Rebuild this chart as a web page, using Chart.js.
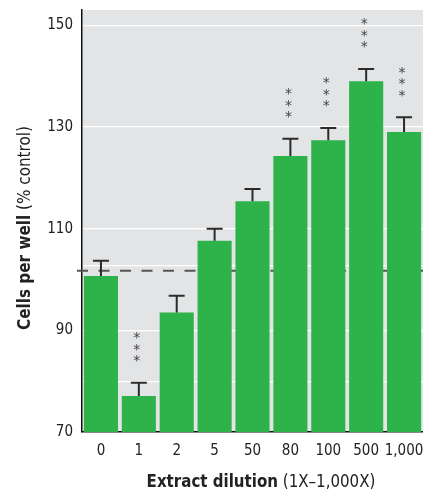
<!DOCTYPE html>
<html>
<head>
<meta charset="utf-8">
<script src="https://cdn.jsdelivr.net/npm/chart.js@4"></script>
<style>
  body { margin: 0; background: #fff; }
  #wrap { width: 423px; height: 489px; }
</style>
</head>
<body>
<div id="wrap"><canvas id="myChart"></canvas></div>
<script>
// values
const dilutions = ['0', '1', '2', '5', '50', '80', '100', '500', '1,000'];
const cellsPerWell = [100.7, 77.1, 93.5, 107.6, 115.4, 124.3, 127.4, 139.0, 129.0];
const errorUp = [3.0, 2.6, 3.3, 2.4, 2.4, 3.4, 2.4, 2.4, 2.9];
const significant = [false, true, false, false, false, true, true, true, true];
const controlLevel = 101.7;
const yGridValues = [70, 80, 90, 102.8, 110, 130, 150];
const yLabelValues = [70, 90, 110, 130, 150];

const fontFamily = "'DejaVu Sans Condensed', 'Liberation Sans Narrow', sans-serif";

const backgroundPlugin = {
    id: 'plotBg',
    beforeDraw(chart) {
        const {ctx, chartArea} = chart;
        ctx.save();
        ctx.fillStyle = '#e3e4e6';
        ctx.fillRect(chartArea.left, chartArea.top, chartArea.right - chartArea.left, chartArea.bottom - chartArea.top);
        ctx.restore();
    }
};

// dashed control line, sits behind the bars
const controlLinePlugin = {
    id: 'controlLine',
    beforeDatasetsDraw(chart) {
        const {ctx, chartArea} = chart;
        const y = chart.scales.y.getPixelForValue(controlLevel);
        ctx.save();
        ctx.strokeStyle = '#555';
        ctx.lineWidth = 2;
        ctx.setLineDash([11, 10.5]);
        ctx.beginPath();
        ctx.moveTo(chartArea.left - 5, y);
        ctx.lineTo(chartArea.right, y);
        ctx.stroke();
        ctx.restore();
    }
};

const errorBarPlugin = {
    id: 'errorBars',
    afterDatasetsDraw(chart) {
        const {ctx} = chart;
        const yScale = chart.scales.y;
        const meta = chart.getDatasetMeta(0);
        ctx.save();
        ctx.strokeStyle = '#2b2b2b';
        ctx.lineWidth = 2;
        meta.data.forEach((bar, i) => {
            const top = yScale.getPixelForValue(cellsPerWell[i] + errorUp[i]);
            const x = bar.x;
            ctx.beginPath();
            ctx.moveTo(x, bar.y);
            ctx.lineTo(x, top);
            ctx.moveTo(x - 8, top);
            ctx.lineTo(x + 8, top);
            ctx.stroke();
            if (significant[i]) {
                ctx.fillStyle = '#444';
                ctx.font = "14px 'DejaVu Sans'";
                ctx.textAlign = 'center';
                ctx.textBaseline = 'alphabetic';
                [23.5, 35, 46.5].forEach(off => {
                    ctx.fillText('*', x - 2, top - off + 6);
                });
            }
        });
        ctx.restore();
    }
};

// axis titles with a bold part and a normal part
function drawTitle(ctx, bold, normal, cx, sx) {
    const boldFont = "bold 18px " + fontFamily;
    const normFont = "18px " + fontFamily;
    ctx.font = boldFont;
    const wb = ctx.measureText(bold).width;
    ctx.font = normFont;
    const wn = ctx.measureText(normal).width;
    ctx.scale(sx, 1);
    const x0 = cx / sx - (wb + wn) / 2;
    ctx.font = boldFont;
    ctx.fillText(bold, x0, 0);
    ctx.font = normFont;
    ctx.fillText(normal, x0 + wb, 0);
}

const axisTitlePlugin = {
    id: 'axisTitles',
    afterDraw(chart) {
        const {ctx} = chart;
        ctx.fillStyle = '#222';
        ctx.textBaseline = 'alphabetic';
        ctx.textAlign = 'left';

        ctx.save();
        ctx.translate(0, 486.5);
        drawTitle(ctx, 'Extract dilution', ' (1X\u20131,000X)', 261, 0.93);
        ctx.restore();

        ctx.save();
        ctx.translate(29.5, 228);
        ctx.rotate(-Math.PI / 2);
        drawTitle(ctx, 'Cells per well', ' (% control)', 0, 0.94);
        ctx.restore();
    }
};

const config = {
    type: 'bar',
    data: {
        labels: dilutions,
        datasets: [{
            data: cellsPerWell,
            backgroundColor: '#2eb34b',
            borderWidth: 0,
            categoryPercentage: 1.0,
            barPercentage: 0.9
        }]
    },
    options: {
        responsive: true,
        maintainAspectRatio: false,
        animation: false,
        layout: {padding: {top: 10, left: 0, right: 0, bottom: 0}},
        plugins: {
            legend: {display: false},
            tooltip: {enabled: false}
        },
        scales: {
            x: {
                grid: {display: false, drawTicks: false},
                border: {display: true, color: '#111', width: 1.5},
                ticks: {
                    color: '#222',
                    padding: 10,
                    maxRotation: 0,
                    minRotation: 0,
                    autoSkip: false,
                    font: {family: fontFamily, size: 15}
                },
                afterFit(scale) {
                    scale.height = 57;
                    scale.paddingLeft = 0;
                    scale.paddingRight = 0;
                }
            },
            y: {
                min: 70,
                max: 153,
                grid: {color: '#ffffff', lineWidth: 1.2, drawTicks: false},
                border: {display: true, color: '#111', width: 1.5},
                ticks: {
                    color: '#222',
                    padding: 9,
                    autoSkip: false,
                    font: {family: fontFamily, size: 15},
                    callback: (value) => yLabelValues.includes(value) ? value : ''
                },
                afterBuildTicks(scale) {
                    scale.ticks = yGridValues.map(v => ({value: v}));
                },
                afterFit(scale) {
                    scale.width = 82;
                    scale.paddingTop = 0;
                    scale.paddingBottom = 0;
                }
            }
        }
    },
    plugins: [backgroundPlugin, controlLinePlugin, errorBarPlugin, axisTitlePlugin]
};

const myChart = new Chart(document.getElementById('myChart'), config);
</script>
</body>
</html>
